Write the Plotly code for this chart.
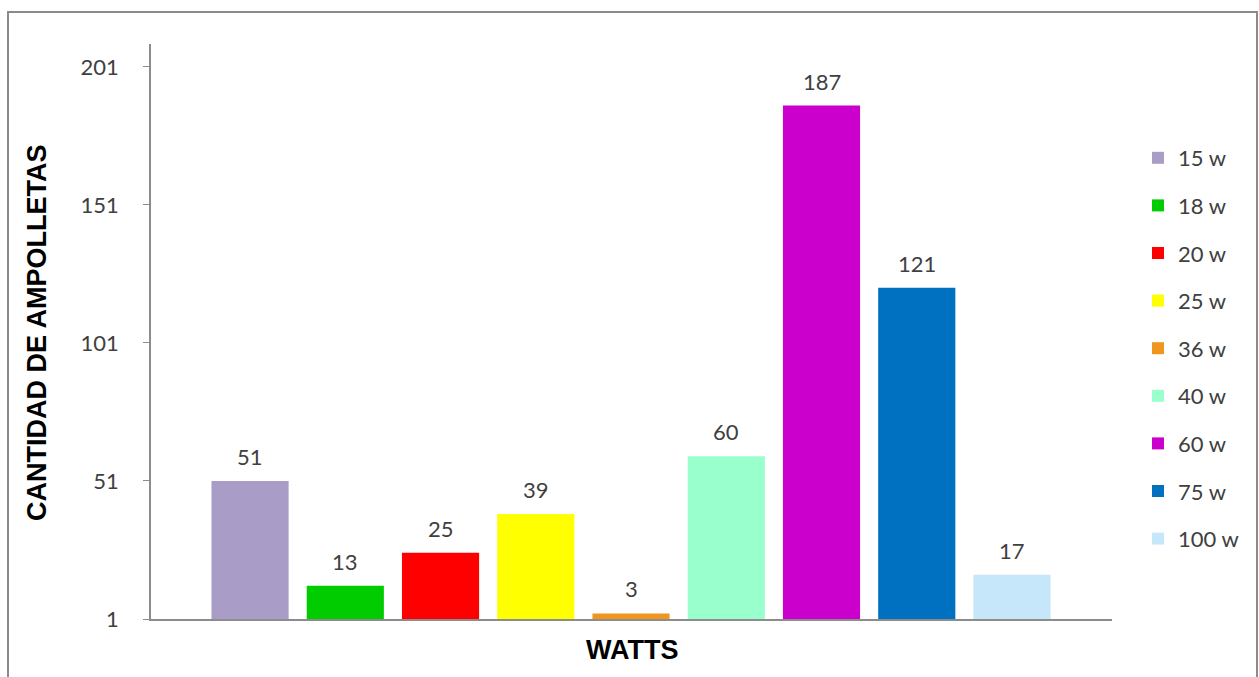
import plotly.graph_objects as go

# Bulb wattage categories and counts
categorias = ["15 w", "18 w", "20 w", "25 w", "36 w", "40 w", "60 w", "75 w", "100 w"]
cantidades = [51, 13, 25, 39, 3, 60, 187, 121, 17]
colores = ["#A99CC6", "#00CC00", "#FF0000", "#FFFF00", "#F0961E",
           "#99FFCC", "#CC00CC", "#0070C0", "#C6E6FA"]
ticks_y = [1, 51, 101, 151, 201]

W, H = 1259, 677
L, R, T, B = 151, 147, 44, 58
plot_w = W - L - R
plot_h = H - T - B

texto = dict(family="Lato, Open Sans, sans-serif", size=22, color="#404040")
titulo = dict(family="Liberation Sans, Arial, sans-serif", size=27, color="#000000")

fig = go.Figure()
for cat, val, col in zip(categorias, cantidades, colores):
    fig.add_trace(go.Bar(
        x=[cat], y=[val], name=cat, marker_color=col,
        marker_line_width=0, width=0.81,
        legendgroup=cat, hoverinfo="skip",
    ))
    fig.add_annotation(
        x=cat, y=val, text=str(val), showarrow=False,
        yanchor="bottom", yshift=9, font=texto,
    )

# Axis titles
fig.add_annotation(
    xref="paper", yref="paper", x=(37 - L) / plot_w, y=(H - B - 333) / plot_h,
    xanchor="center", yanchor="middle",
    text="<b>CANTIDAD DE AMPOLLETAS</b>", textangle=-90, showarrow=False,
    font=titulo,
)
fig.add_annotation(
    xref="paper", yref="paper", x=0.5, y=(H - B - 650) / plot_h,
    xanchor="center", yanchor="middle",
    text="<b>WATTS</b>", showarrow=False, font=titulo,
)

# Outer chart frame
fig.add_shape(
    type="rect", xref="paper", yref="paper",
    x0=(8 - L) / plot_w, x1=(1257 - L) / plot_w,
    y0=(H - B - 690) / plot_h, y1=(H - B - 12) / plot_h,
    line=dict(color="#8A8A8A", width=2), fillcolor="rgba(0,0,0,0)", layer="below",
)

fig.update_layout(
    width=W, height=H,
    margin=dict(l=L, r=R, t=T, b=B, autoexpand=False),
    paper_bgcolor="white", plot_bgcolor="white",
    barmode="overlay",
    showlegend=True,
    legend=dict(
        x=(1138 - L) / plot_w, y=(H - B - 137) / plot_h, xanchor="left", yanchor="top",
        font=texto, tracegroupgap=16, itemwidth=30, bgcolor="rgba(0,0,0,0)",
    ),
    xaxis=dict(
        range=[-1.04, 9.05], showticklabels=False, ticks="",
        showline=True, linecolor="#8C8C8C", linewidth=1.5,
        showgrid=False, zeroline=False, fixedrange=True,
    ),
    yaxis=dict(
        range=[1, 209.3], tickvals=ticks_y, ticktext=[str(t) for t in ticks_y],
        ticks="outside", ticklen=6, tickcolor="#8C8C8C",
        showline=True, linecolor="#8C8C8C", linewidth=1.5,
        showgrid=False, zeroline=False,
        tickfont=texto, ticklabelstandoff=20,
    ),
)

fig.write_html("out.html")
